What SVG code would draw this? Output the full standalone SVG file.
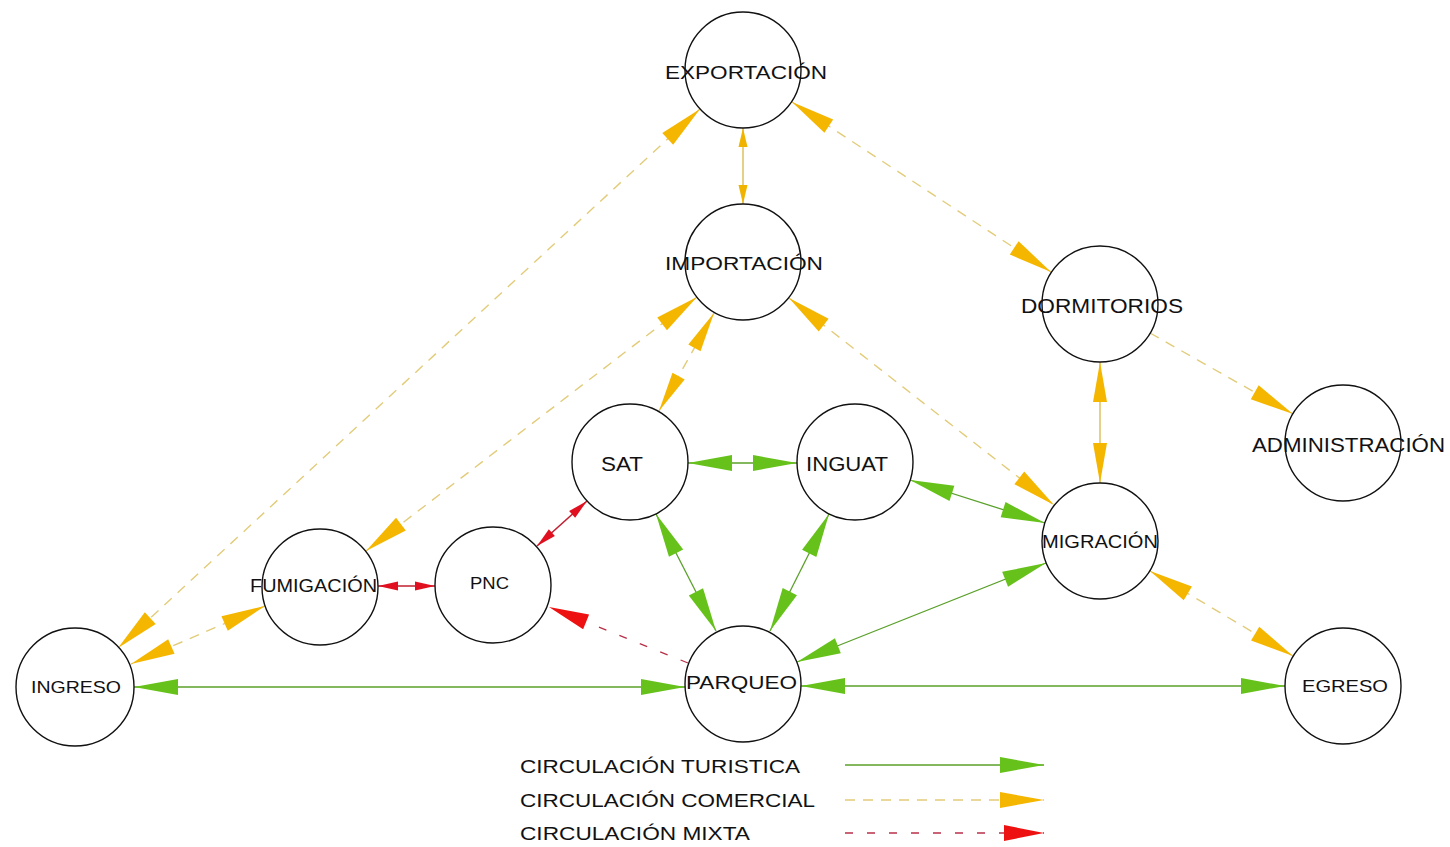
<svg xmlns="http://www.w3.org/2000/svg" width="1450" height="847" viewBox="0 0 1450 847">
  <style>
    .node circle { fill: #ffffff; stroke: #111111; stroke-width: 1.4; }
    .node text, .legend text { font-family: "Liberation Sans", Arial, sans-serif; fill: #111111; }
    .tur { stroke: #5aa02a; stroke-width: 1.3; fill: none; }
    .com { stroke: #e2cc7a; stroke-width: 1.4; fill: none; stroke-dasharray: 10 8; }
    .comS { stroke: #d9b64a; stroke-width: 1.3; fill: none; }
    .mix { stroke: #b83048; stroke-width: 1.3; fill: none; stroke-dasharray: 8 14; }
    .mixS { stroke: #c02030; stroke-width: 1.5; fill: none; }
    .gB { marker-start: url(#gL); marker-end: url(#gL); }
    .oB { marker-start: url(#oL); marker-end: url(#oL); }
  </style>
  <defs>
    <!-- arrowheads: tip sits on the circle edge -->
    <marker id="gL" markerUnits="userSpaceOnUse" markerWidth="48" markerHeight="20" refX="44" refY="8" orient="auto-start-reverse" overflow="visible">
      <path d="M0,0 L44,8 L0,16 Z" fill="#66c21a"/>
    </marker>
    <marker id="oL" markerUnits="userSpaceOnUse" markerWidth="48" markerHeight="20" refX="44" refY="8" orient="auto-start-reverse" overflow="visible">
      <path d="M0,0 L44,8 L0,16 Z" fill="#f5b600"/>
    </marker>
    <marker id="oM" markerUnits="userSpaceOnUse" markerWidth="44" markerHeight="16" refX="40" refY="7" orient="auto-start-reverse" overflow="visible">
      <path d="M0,0 L40,7 L0,14 Z" fill="#f5b600"/>
    </marker>
    <marker id="oS" markerUnits="userSpaceOnUse" markerWidth="22" markerHeight="12" refX="19" refY="4.5" orient="auto-start-reverse" overflow="visible">
      <path d="M0,0 L19,4.5 L0,9 Z" fill="#f0b400"/>
    </marker>
    <marker id="rL" markerUnits="userSpaceOnUse" markerWidth="44" markerHeight="20" refX="40" refY="8" orient="auto-start-reverse" overflow="visible">
      <path d="M0,0 L40,8 L0,16 Z" fill="#ee1111"/>
    </marker>
    <marker id="rS" markerUnits="userSpaceOnUse" markerWidth="24" markerHeight="12" refX="20" refY="4.5" orient="auto-start-reverse" overflow="visible">
      <path d="M0,0 L20,4.5 L0,9 Z" fill="#e01020"/>
    </marker>
  </defs>

  <rect width="1450" height="847" fill="#ffffff"/>

  <g id="connectors">
    <!-- circulación turística -->
    <line class="tur gB" x1="134" y1="687" x2="685" y2="687"/>
    <line class="tur gB" x1="801" y1="686" x2="1285" y2="686"/>
    <line class="tur gB" x1="688" y1="463" x2="797" y2="463"/>
    <line class="tur gB" x1="656" y1="514" x2="716" y2="631"/>
    <line class="tur gB" x1="829" y1="514" x2="770" y2="631"/>
    <line class="tur gB" x1="910" y1="480" x2="1045" y2="523"/>
    <line class="tur gB" x1="797" y1="662" x2="1046" y2="563"/>
    <!-- circulación comercial -->
    <line class="comS" x1="743" y1="128" x2="743" y2="204" marker-start="url(#oS)" marker-end="url(#oS)"/>
    <line class="com oB" x1="700" y1="109" x2="118" y2="648"/>
    <line class="com oB" x1="792" y1="102" x2="1051" y2="272"/>
    <line class="com oB" x1="697" y1="297" x2="366" y2="551"/>
    <line class="com" x1="714" y1="313" x2="659" y2="411" marker-start="url(#oM)" marker-end="url(#oM)"/>
    <line class="com oB" x1="789" y1="298" x2="1054" y2="505"/>
    <line class="comS" x1="1100" y1="362" x2="1100" y2="483" marker-start="url(#oM)" marker-end="url(#oM)"/>
    <line class="com" x1="1150" y1="333" x2="1293" y2="414" marker-end="url(#oL)"/>
    <line class="com oB" x1="265" y1="606" x2="131" y2="664"/>
    <line class="com oB" x1="1150" y1="571" x2="1293" y2="656"/>
    <!-- circulación mixta -->
    <line class="mixS" x1="378" y1="586" x2="435" y2="586" marker-start="url(#rS)" marker-end="url(#rS)"/>
    <line class="mixS" x1="587" y1="501" x2="537" y2="546" marker-start="url(#rS)" marker-end="url(#rS)"/>
    <line class="mix" x1="688" y1="663" x2="549" y2="607" marker-end="url(#rL)"/>
  </g>

  <g id="exportacion" class="node">
    <circle cx="743" cy="70" r="58"/>
    <text x="665" y="79" font-size="19" textLength="162" lengthAdjust="spacingAndGlyphs">EXPORTACIÓN</text>
  </g>
  <g id="importacion" class="node">
    <circle cx="743" cy="262" r="58"/>
    <text x="665" y="270" font-size="19" textLength="158" lengthAdjust="spacingAndGlyphs">IMPORTACIÓN</text>
  </g>
  <g id="dormitorios" class="node">
    <circle cx="1100" cy="304" r="58"/>
    <text x="1021" y="313" font-size="20" textLength="162" lengthAdjust="spacingAndGlyphs">DORMITORIOS</text>
  </g>
  <g id="administracion" class="node">
    <circle cx="1343" cy="443" r="58"/>
    <text x="1252" y="452" font-size="20" textLength="193" lengthAdjust="spacingAndGlyphs">ADMINISTRACIÓN</text>
  </g>
  <g id="sat" class="node">
    <circle cx="630" cy="462" r="58"/>
    <text x="601" y="471" font-size="21" textLength="42" lengthAdjust="spacingAndGlyphs">SAT</text>
  </g>
  <g id="inguat" class="node">
    <circle cx="855" cy="462" r="58"/>
    <text x="806" y="471" font-size="21" textLength="82" lengthAdjust="spacingAndGlyphs">INGUAT</text>
  </g>
  <g id="migracion" class="node">
    <circle cx="1100" cy="541" r="58"/>
    <text x="1042" y="548" font-size="18" textLength="116" lengthAdjust="spacingAndGlyphs">MIGRACIÓN</text>
  </g>
  <g id="fumigacion" class="node">
    <circle cx="320" cy="587" r="58"/>
    <text x="250" y="592" font-size="18" textLength="127" lengthAdjust="spacingAndGlyphs">FUMIGACIÓN</text>
  </g>
  <g id="pnc" class="node">
    <circle cx="493" cy="585" r="58"/>
    <text x="470" y="589" font-size="17" textLength="39" lengthAdjust="spacingAndGlyphs">PNC</text>
  </g>
  <g id="ingreso" class="node">
    <circle cx="75" cy="687" r="59"/>
    <text x="31" y="693" font-size="17" textLength="90" lengthAdjust="spacingAndGlyphs">INGRESO</text>
  </g>
  <g id="parqueo" class="node">
    <circle cx="743" cy="684" r="58"/>
    <text x="686" y="689" font-size="19" textLength="111" lengthAdjust="spacingAndGlyphs">PARQUEO</text>
  </g>
  <g id="egreso" class="node">
    <circle cx="1343" cy="686" r="58"/>
    <text x="1302" y="692" font-size="17" textLength="86" lengthAdjust="spacingAndGlyphs">EGRESO</text>
  </g>

  <g id="legend" class="legend">
    <text x="520" y="773" font-size="19" textLength="280" lengthAdjust="spacingAndGlyphs">CIRCULACIÓN TURISTICA</text>
    <text x="520" y="807" font-size="19" textLength="295" lengthAdjust="spacingAndGlyphs">CIRCULACIÓN COMERCIAL</text>
    <text x="520" y="840" font-size="19" textLength="230" lengthAdjust="spacingAndGlyphs">CIRCULACIÓN MIXTA</text>
    <line class="tur" x1="845" y1="765" x2="1044" y2="765" marker-end="url(#gL)"/>
    <line class="com" x1="845" y1="800" x2="1044" y2="800" marker-end="url(#oL)"/>
    <line class="mix" x1="845" y1="833" x2="1044" y2="833" marker-end="url(#rL)"/>
  </g>
</svg>
